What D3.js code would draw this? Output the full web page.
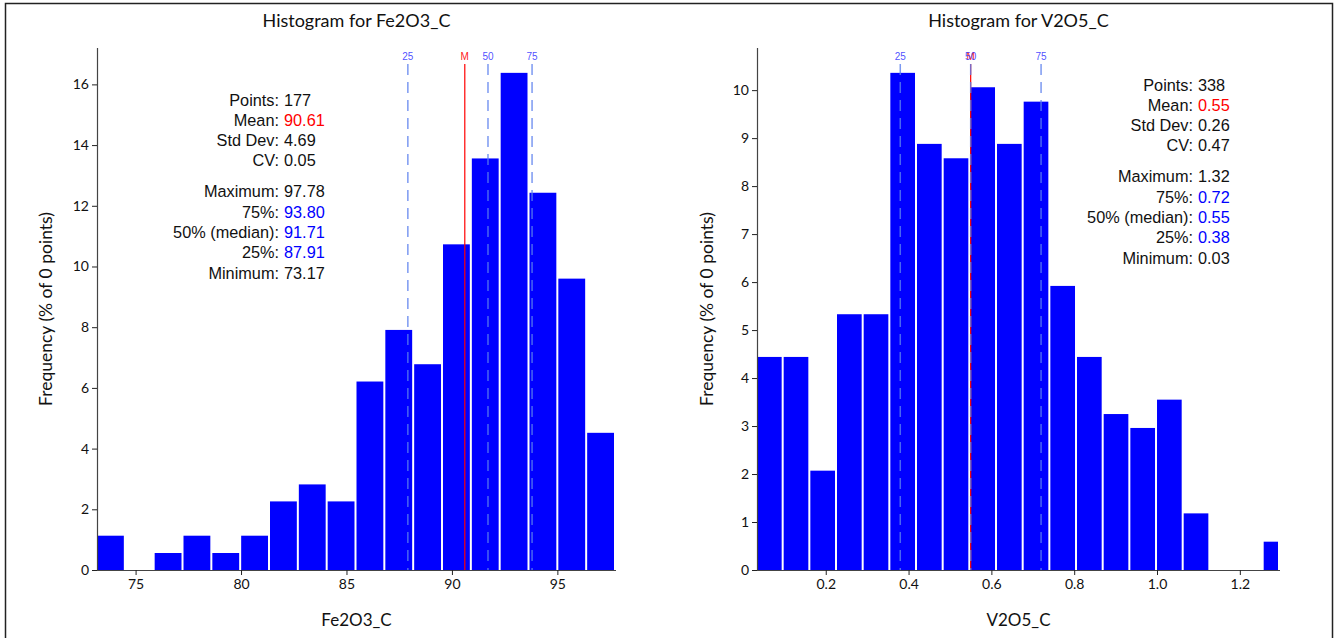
<!DOCTYPE html>
<html><head><meta charset="utf-8">
<script src="https://cdn.jsdelivr.net/npm/d3@7"></script>
<style>
html,body{margin:0;padding:0;background:#fff;}
svg{display:block;}
.tick text{font-family:Lato,"Open Sans",sans-serif;font-size:14px;fill:#111;}
</style></head><body>
<svg id="chart" width="1338" height="638"></svg>
<script>
// ---------- data ----------
const feTitle = "Histogram for Fe2O3_C";
const feVar = "Fe2O3_C";
const feMin = 73.17, feMax = 97.78;
const feFreq = [1.13, 0, 0.56, 1.13, 0.56, 1.13, 2.26, 2.82, 2.26, 6.21, 7.91, 6.78, 10.73, 13.56, 16.38, 12.43, 9.60, 4.52];
const feXTicks = [75, 80, 85, 90, 95];
const feYTicks = [0, 2, 4, 6, 8, 10, 12, 14, 16];
const feQuart = [{k:"25", v:87.91}, {k:"50", v:91.71}, {k:"75", v:93.80}];
const feMean = 90.61;
const feStats1 = [["Points:", "177", "k"], ["Mean:", "90.61", "r"], ["Std Dev:", "4.69", "k"], ["CV:", "0.05", "k"]];
const feStats2 = [["Maximum:", "97.78", "k"], ["75%:", "93.80", "b"], ["50% (median):", "91.71", "b"], ["25%:", "87.91", "b"], ["Minimum:", "73.17", "k"]];

const vTitle = "Histogram for V2O5_C";
const vVar = "V2O5_C";
const vMin = 0.034, vMax = 1.322, vAxisEnd = 1.297;
const vFreq = [4.44, 4.44, 2.07, 5.33, 5.33, 10.36, 8.88, 8.58, 10.06, 8.88, 9.76, 5.92, 4.44, 3.25, 2.96, 3.55, 1.18, 0, 0, 0.59];
const vXTicks = [0.2, 0.4, 0.6, 0.8, 1.0, 1.2];
const vYTicks = [0, 1, 2, 3, 4, 5, 6, 7, 8, 9, 10];
const vQuart = [{k:"25", v:0.38}, {k:"50", v:0.55}, {k:"75", v:0.72}];
const vMean = 0.55;
const vStats1 = [["Points:", "338", "k"], ["Mean:", "0.55", "r"], ["Std Dev:", "0.26", "k"], ["CV:", "0.47", "k"]];
const vStats2 = [["Maximum:", "1.32", "k"], ["75%:", "0.72", "b"], ["50% (median):", "0.55", "b"], ["25%:", "0.38", "b"], ["Minimum:", "0.03", "k"]];

const yLabel = "Frequency (% of 0 points)";

// ---------- drawing ----------
const svg = d3.select("#chart");
const colorMap = {k:"#111", r:"#ff0000", b:"#0000ff"};

svg.append("rect").attr("x",5.5).attr("y",3.5).attr("width",1327).attr("height",650)
  .attr("fill","none").attr("stroke","#222").attr("stroke-width",1.5);

function histogram(o){
  const g = svg.append("g");
  const x = d3.scaleLinear().domain(o.xDomain).range([o.left, o.right]).clamp(true);
  const yMax = d3.max(o.freq) * 1.05;
  const y = d3.scaleLinear().domain([0, yMax]).range([o.bottom, o.top]);
  const w = (o.binMax - o.binMin) / o.freq.length;
  const bins = o.freq.map((f,i)=>({x0:o.binMin + i*w, x1:o.binMin + (i+1)*w, f}));

  g.selectAll("rect.bar").data(bins.filter(b=>b.f>0)).join("rect")
    .attr("class","bar")
    .attr("x", d=>x(d.x0))
    .attr("width", d=>Math.max(0, x(d.x1) - x(d.x0) - 2))
    .attr("y", d=>y(d.f))
    .attr("height", d=>y(0)-y(d.f))
    .attr("fill","#0000ff");

  // axes
  const xa = g.append("g").attr("transform",`translate(0,${o.bottom})`)
    .call(d3.axisBottom(x).tickValues(o.xTicks).tickSize(5).tickPadding(4).tickFormat(o.xFmt));
  const ya = g.append("g").attr("transform",`translate(${o.left},0)`)
    .call(d3.axisLeft(y).tickValues(o.yTicks).tickSize(5).tickPadding(3).tickFormat(d3.format("d")));
  [xa, ya].forEach(a=>{
    a.select(".domain").attr("stroke","#444").attr("stroke-width",1.2);
    a.selectAll(".tick line").attr("stroke","#222");
  });
  xa.select(".domain").attr("d", `M${o.left},0.5H${o.right}`);
  ya.select(".domain").attr("d", `M0.5,${o.bottom}V${y(yMax)}`);

  // mean line
  const lineTop = 64;
  g.append("line").attr("x1",x(o.mean)).attr("x2",x(o.mean)).attr("y1",lineTop).attr("y2",o.bottom)
    .attr("stroke","#ff0000").attr("stroke-width",1.2);
  g.append("text").attr("x",x(o.mean)).attr("y",59.5).attr("text-anchor","middle")
    .attr("font-family","Liberation Sans, Arial, sans-serif").attr("font-size",10).attr("fill","#ff2020").text("M");

  // quartile lines
  o.quart.forEach(q=>{
    g.append("line").attr("x1",x(q.v)).attr("x2",x(q.v)).attr("y1",lineTop).attr("y2",o.bottom)
      .attr("stroke","#5b80ee").attr("stroke-opacity",0.8).attr("stroke-width",1.5).attr("stroke-dasharray","11,7");
    g.append("text").attr("x",x(q.v)).attr("y",59.5).attr("text-anchor","middle")
      .attr("font-family","Liberation Sans, Arial, sans-serif").attr("font-size",10).attr("fill","#3a3aff").attr("fill-opacity",0.9).text(q.k);
  });

  // title
  g.append("text").attr("x",(o.left+o.right)/2).attr("y",27).attr("text-anchor","middle")
    .attr("font-family","Lato, 'Open Sans', sans-serif").attr("font-size",18).attr("fill","#111").text(o.title);
  // x label
  g.append("text").attr("x",(o.left+o.right)/2).attr("y",626).attr("text-anchor","middle")
    .attr("font-family","Lato, 'Open Sans', sans-serif").attr("font-size",17).attr("fill","#111").text(o.xlab);
  // y label
  g.append("text").attr("transform",`translate(${o.ylabX},${(o.top+o.bottom)/2}) rotate(-90)`)
    .attr("text-anchor","middle")
    .attr("font-family","Lato, 'Open Sans', sans-serif").attr("font-size",17.5).attr("fill","#111").text(yLabel);

  // stats
  const st = g.append("g").attr("font-family","Liberation Sans, Arial, sans-serif").attr("font-size",16.3);
  function block(rows, y0){
    rows.forEach((r,i)=>{
      const yy = y0 + i*20.3;
      st.append("text").attr("x",o.statX).attr("y",yy).attr("text-anchor","end").attr("fill","#111").text(r[0]);
      st.append("text").attr("x",o.statX+5).attr("y",yy).attr("text-anchor","start").attr("fill",colorMap[r[2]]).text(r[1]);
    });
  }
  block(o.stats1, o.statY);
  block(o.stats2, o.statY + 3*20.3 + 31);
}

histogram({title:feTitle, xlab:feVar, freq:feFreq, binMin:feMin, binMax:feMax, xDomain:[feMin, feMax],
  xTicks:feXTicks, yTicks:feYTicks, quart:feQuart, mean:feMean, stats1:feStats1, stats2:feStats2,
  left:97, right:616, top:48, bottom:570, ylabX:52, statX:279, statY:105.5, xFmt:d3.format("d")});

histogram({title:vTitle, xlab:vVar, freq:vFreq, binMin:vMin, binMax:vMax, xDomain:[vMin, vAxisEnd],
  xTicks:vXTicks, yTicks:vYTicks, quart:vQuart, mean:vMean, stats1:vStats1, stats2:vStats2,
  left:757, right:1280, top:48, bottom:570, ylabX:713, statX:1193, statY:90.5, xFmt:d3.format(".1f")});
</script>
</body></html>
